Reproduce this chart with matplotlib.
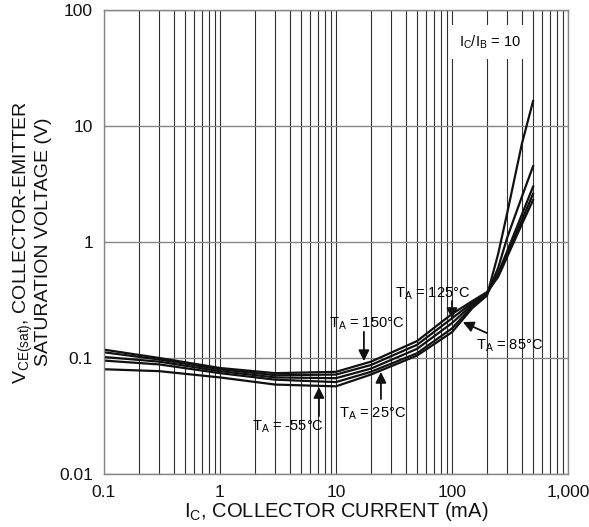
import matplotlib
matplotlib.use('Agg')
import matplotlib.pyplot as plt
from matplotlib.ticker import FixedLocator, NullLocator, LogLocator

plt.rcParams['font.family'] = ['Liberation Sans', 'DejaVu Sans']
plt.rcParams['mathtext.fontset'] = 'custom'
plt.rcParams['mathtext.rm'] = 'Liberation Sans'

# collector current (mA)
ic = [0.1, 0.3, 1, 3, 10, 20, 50, 100, 150, 200, 250, 300, 400, 500]

# VCE(sat) in volts
vce_150 = [0.118, 0.100, 0.082, 0.074, 0.076, 0.093, 0.140, 0.240, 0.310, 0.370, 0.50, 0.75, 1.42, 2.30]
vce_125 = [0.112, 0.097, 0.080, 0.071, 0.072, 0.087, 0.130, 0.220, 0.300, 0.360, 0.52, 0.79, 1.54, 2.60]
vce_85 = [0.102, 0.093, 0.077, 0.068, 0.067, 0.081, 0.120, 0.200, 0.290, 0.355, 0.54, 0.84, 1.72, 3.00]
vce_25 = [0.095, 0.088, 0.074, 0.065, 0.062, 0.076, 0.110, 0.180, 0.280, 0.350, 0.60, 1.10, 2.45, 4.50]
vce_m55 = [0.080, 0.077, 0.068, 0.059, 0.057, 0.072, 0.105, 0.167, 0.270, 0.345, 0.79, 1.80, 7.00, 16.4]

x_ticks = [0.1, 1, 10, 100, 1000]
x_labels = ['0.1', '1', '10', '100', '1,000']
y_ticks = [0.01, 0.1, 1, 10, 100]
y_labels = ['0.01', '0.1', '1', '10', '100']

fig = plt.figure(figsize=(5.89, 5.27), dpi=100)
ax = fig.add_axes([104 / 589, 53 / 527, 464 / 589, 464 / 527])
ax.set_xscale('log')
ax.set_yscale('log')
ax.set_xlim(0.1, 1000)
ax.set_ylim(0.01, 100)

# grid: every minor decade line vertical, only decades horizontal
ax.xaxis.set_major_locator(FixedLocator(x_ticks))
ax.xaxis.set_minor_locator(LogLocator(base=10, subs=range(2, 10), numticks=20))
ax.yaxis.set_major_locator(FixedLocator(y_ticks))
ax.yaxis.set_minor_locator(NullLocator())
ax.grid(True, which='both', axis='x', color='#303030', lw=0.8)
ax.grid(True, which='major', axis='y', color='#858585', lw=1.0)
ax.set_axisbelow(True)
ax.set_xticklabels(x_labels)
ax.set_yticklabels(y_labels)
ax.tick_params(which='both', length=0, labelsize=12.5, pad=8, colors='#111111')
for s in ax.spines.values():
    s.set_color('#858585')
    s.set_linewidth(1.0)

for v in [vce_150, vce_125, vce_85, vce_25, vce_m55]:
    ax.plot(ic, v, color='#111111', lw=1.6, solid_joinstyle='round')

ap = dict(arrowstyle='-|>', color='#111111', lw=1.3, mutation_scale=16, shrinkA=0, shrinkB=0)
fs = 10.5
ax.annotate('', xy=(100, 0.217), xytext=(100, 0.31), arrowprops=ap)
ax.text(68.6, 0.356, r'$\mathregular{T_A}$ = 125°C', fontsize=fs, ha='center', va='center')
ax.annotate('', xy=(17.4, 0.094), xytext=(17.4, 0.168), arrowprops=ap)
ax.text(18.5, 0.196, r'$\mathregular{T_A}$ = 150°C', fontsize=fs, ha='center', va='center')
ax.annotate('', xy=(124, 0.204), xytext=(200, 0.164), arrowprops=ap)
ax.text(316, 0.127, r'$\mathregular{T_A}$ = 85°C', fontsize=fs, ha='center', va='center')
ax.annotate('', xy=(24.4, 0.0758), xytext=(24.4, 0.0443), arrowprops=ap)
ax.text(20.8, 0.033, r'$\mathregular{T_A}$ = 25°C', fontsize=fs, ha='center', va='center')
ax.annotate('', xy=(7.13, 0.0562), xytext=(7.13, 0.0316), arrowprops=ap)
ax.text(3.86, 0.0255, r'$\mathregular{T_A}$ = -55°C', fontsize=fs, ha='center', va='center')

ax.text(213, 53, r'$\mathregular{I_C/I_B}$ = 10', fontsize=fs, ha='center', va='center',
        bbox=dict(facecolor='white', edgecolor='none', pad=6))

ax.set_xlabel(r'$\mathregular{I_C}$, COLLECTOR CURRENT (mA)', fontsize=14.5, labelpad=0, color='#111111')
ax.set_ylabel(r'$\mathregular{V_{CE(sat)}}$, COLLECTOR-EMITTER' + '\n' + 'SATURATION VOLTAGE (V)',
              fontsize=14, labelpad=5, color='#111111', linespacing=1.0)

fig.savefig('out.png', dpi=100)
